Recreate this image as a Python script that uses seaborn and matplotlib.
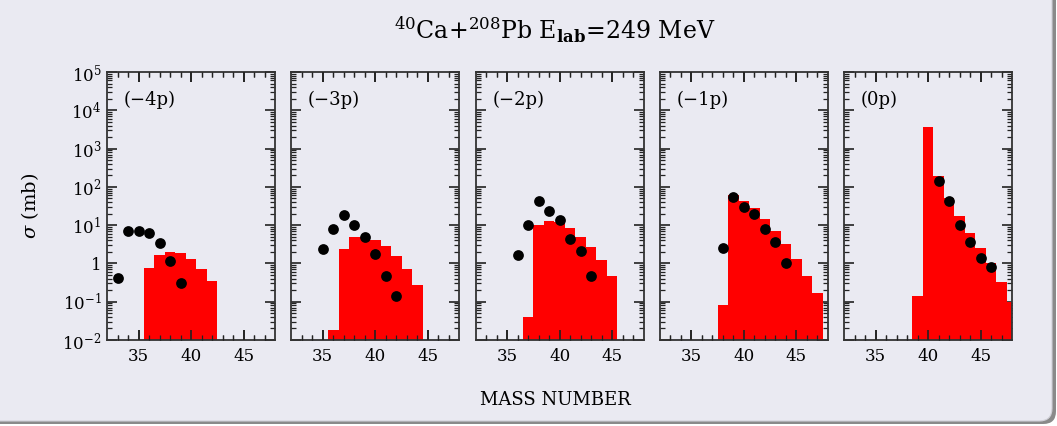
import numpy as np
import pandas as pd
import seaborn as sns
import matplotlib.pyplot as plt
from matplotlib.patches import FancyBboxPatch
from matplotlib.ticker import LogLocator, FuncFormatter, NullFormatter

sns.set_theme(style="ticks", rc={
    'axes.facecolor': '#eaeaf2', 'figure.facecolor': 'white',
    'axes.edgecolor': '#333333', 'axes.linewidth': 1.3, 'axes.grid': False,
    'xtick.bottom': True, 'xtick.top': True, 'ytick.left': True, 'ytick.right': True,
    'xtick.direction': 'in', 'ytick.direction': 'in',
    'xtick.major.size': 7, 'ytick.major.size': 7,
    'xtick.minor.size': 3.5, 'ytick.minor.size': 3.5,
    'xtick.major.width': 1.2, 'ytick.major.width': 1.2,
    'xtick.minor.width': 0.9, 'ytick.minor.width': 0.9,
    'xtick.major.pad': 6, 'ytick.major.pad': 4,
    'xtick.color': '#222222', 'ytick.color': '#222222',
    'xtick.labelcolor': 'black', 'ytick.labelcolor': 'black',
    'xtick.labelsize': 12, 'ytick.labelsize': 12,
})
plt.rcParams['font.family'] = ['DejaVu Serif']
plt.rcParams['mathtext.fontset'] = 'dejavuserif'

# ---------------- data ----------------
panel_labels = ["(−4p)", "(−3p)", "(−2p)", "(−1p)", "(0p)"]
x_major_ticks = [35, 40, 45]
x_minor_ticks = [33, 34, 36, 37, 38, 39, 41, 42, 43, 44, 46, 47]

# calculated (histogram) cross sections, mb
calc_mass_m4 = [36, 37, 38, 39, 40, 41, 42]
calc_sig_m4 = [0.78, 1.7, 2.0, 1.9, 1.3, 0.71, 0.35]
calc_mass_m3 = [36, 37, 38, 39, 40, 41, 42, 43, 44]
calc_sig_m3 = [0.018, 2.4, 5.0, 5.0, 4.2, 2.9, 1.6, 0.71, 0.27]
calc_mass_m2 = [37, 38, 39, 40, 41, 42, 43, 44, 45]
calc_sig_m2 = [0.04, 10.0, 13.0, 12.0, 8.4, 4.9, 2.7, 1.2, 0.46]
calc_mass_m1 = [38, 39, 40, 41, 42, 43, 44, 45, 46, 47]
calc_sig_m1 = [0.083, 63, 42, 28, 14.5, 7.1, 3.2, 1.3, 0.48, 0.17]
calc_mass_0 = [39, 40, 41, 42, 43, 44, 45, 46, 47, 48]
calc_sig_0 = [0.14, 3600, 190, 51, 17.6, 6.4, 2.5, 1.0, 0.32, 0.096]

# experimental points, mb
exp_mass_m4 = [33, 34, 35, 36, 37, 38, 39]
exp_sig_m4 = [0.41, 6.9, 6.9, 6.4, 3.5, 1.17, 0.30]
exp_mass_m3 = [35, 36, 37, 38, 39, 40, 41, 42]
exp_sig_m3 = [2.4, 7.9, 18.7, 9.8, 4.9, 1.8, 0.48, 0.14]
exp_mass_m2 = [36, 37, 38, 39, 40, 41, 42, 43]
exp_sig_m2 = [1.7, 9.8, 42, 24, 13.3, 4.4, 2.1, 0.48]
exp_mass_m1 = [38, 39, 40, 41, 42, 43, 44]
exp_sig_m1 = [2.5, 53, 29, 19, 8.1, 3.7, 1.05]
exp_mass_0 = [41, 42, 43, 44, 45, 46]
exp_sig_0 = [139, 44, 9.8, 3.7, 1.38, 0.8]

calc = [(calc_mass_m4, calc_sig_m4), (calc_mass_m3, calc_sig_m3), (calc_mass_m2, calc_sig_m2),
        (calc_mass_m1, calc_sig_m1), (calc_mass_0, calc_sig_0)]
expt = [(exp_mass_m4, exp_sig_m4), (exp_mass_m3, exp_sig_m3), (exp_mass_m2, exp_sig_m2),
        (exp_mass_m1, exp_sig_m1), (exp_mass_0, exp_sig_0)]

# ---------------- figure ----------------
W, H = 1057, 426
fig = plt.figure(figsize=(W / 100, H / 100), dpi=100, facecolor='white')

# rounded frame with shadow
shadow = FancyBboxPatch((-20 / W, 2 / H), (W + 20 - 1) / W, (H - 2 + 20) / H,
                        boxstyle="round,pad=0,rounding_size=0.012",
                        transform=fig.transFigure, facecolor='#8a8a8a', edgecolor='none',
                        zorder=-3, mutation_aspect=W / H)
frame = FancyBboxPatch((-20 / W, 5 / H), (W + 20 - 5) / W, (H - 5 + 20) / H,
                       boxstyle="round,pad=0,rounding_size=0.012",
                       transform=fig.transFigure, facecolor='#eaeaf2', edgecolor='#d0d0d8',
                       linewidth=0.8, zorder=-2, mutation_aspect=W / H)
fig.patches.extend([shadow, frame])

ax_left = 107
ax_w = 168
ax_step = 184.3
ax_top = 72
ax_bot = 340


def yfmt(v, pos):
    n = int(round(np.log10(v)))
    if n == 0:
        return "1"
    return r"$10^{%d}$" % n


for i in range(5):
    l = (ax_left + i * ax_step) / W
    b = 1 - ax_bot / H
    pos = [l, b, ax_w / W, (ax_bot - ax_top) / H]
    ax = fig.add_axes(pos)

    cm, cs = calc[i]
    dfc = pd.DataFrame({"mass": cm, "sigma": cs})
    sns.histplot(data=dfc, x="mass", weights="sigma", discrete=True, ax=ax,
                 color='#ff0000', alpha=1.0, linewidth=0, element="bars", fill=True)

    em, es = expt[i]
    dfe = pd.DataFrame({"mass": em, "sigma": es})
    sns.scatterplot(data=dfe, x="mass", y="sigma", ax=ax, color='black', s=60,
                    edgecolor='black', linewidth=0, zorder=5)

    ax.set_yscale('log')
    ax.set_ylim(1e-2, 1e5)
    ax.set_xlim(32, 48)
    ax.set_xlabel("")
    ax.set_ylabel("")

    ax.set_xticks(x_major_ticks)
    ax.set_xticks(x_minor_ticks, minor=True)
    ax.yaxis.set_major_locator(LogLocator(base=10, numticks=20))
    ax.yaxis.set_minor_locator(LogLocator(base=10, subs=np.arange(2, 10), numticks=20))
    ax.yaxis.set_minor_formatter(NullFormatter())
    if i == 0:
        ax.yaxis.set_major_formatter(FuncFormatter(yfmt))
    else:
        ax.yaxis.set_major_formatter(NullFormatter())
    ax.tick_params(axis='x', which='both', direction='in', bottom=True, top=True,
                   colors='#222222', labelcolor='black')
    ax.tick_params(axis='x', which='major', length=7, width=1.2)
    ax.tick_params(axis='x', which='minor', length=3.5, width=0.9)

    for s in ax.spines.values():
        s.set_visible(True)
        s.set_color('#333333')
        s.set_linewidth(1.3)

    ax.text(0.1, 0.895, panel_labels[i], transform=ax.transAxes, fontsize=13,
            ha='left', va='center', color='black')

    # transparent overlay carrying the inward x tick marks (bottom and top)
    tax = fig.add_axes(pos, facecolor='none', zorder=3)
    tax.set_xlim(ax.get_xlim())
    tax.set_ylim(0, 1)
    tax.set_xticks(x_major_ticks)
    tax.set_xticks(x_minor_ticks, minor=True)
    tax.tick_params(axis='x', which='both', direction='in', bottom=True, top=True,
                    labelbottom=False, labeltop=False, colors='#222222')
    tax.tick_params(axis='x', which='major', length=7, width=1.2)
    tax.tick_params(axis='x', which='minor', length=3.5, width=0.9)
    tax.tick_params(axis='y', which='both', left=False, right=False,
                    labelleft=False, labelright=False)
    for s in tax.spines.values():
        s.set_visible(False)

fig.text(555 / W, 1 - 30 / H,
         r"$^{40}$Ca+$^{208}$Pb E$_{\mathbf{lab}}$=249 MeV",
         ha='center', va='center', fontsize=17, color='black')
fig.text(555 / W, 1 - 400 / H, "MASS NUMBER", ha='center', va='center',
         fontsize=13, color='black')
fig.text(30 / W, 1 - 206 / H, r"$\sigma$ (mb)", ha='center', va='center',
         rotation=90, fontsize=14, color='black')

fig.savefig("out.png", dpi=100, facecolor=fig.get_facecolor())
